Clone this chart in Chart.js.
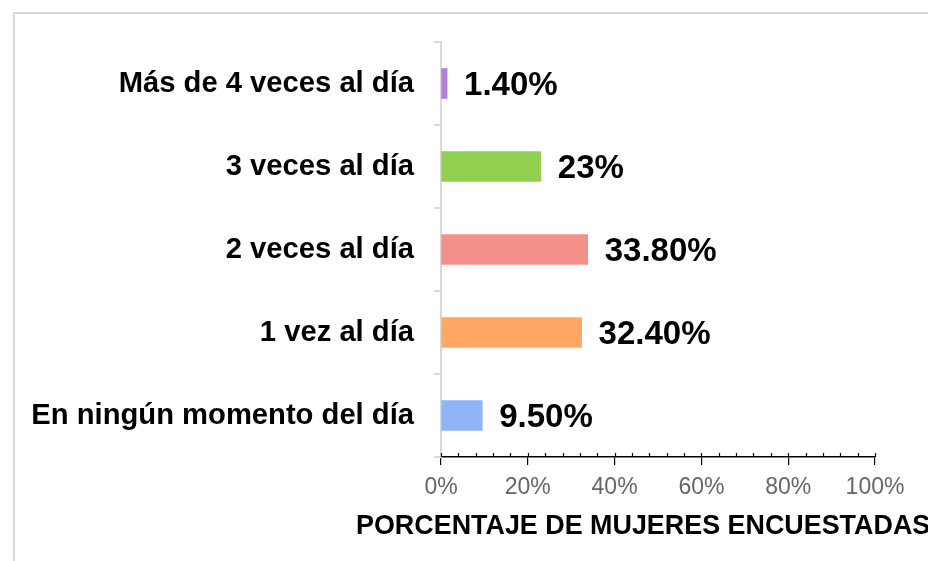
<!DOCTYPE html>
<html>
<head>
<meta charset="utf-8">
<script src="https://cdn.jsdelivr.net/npm/chart.js@4.4.0/dist/chart.umd.min.js"></script>
<style>
    html, body { margin: 0; padding: 0; background: #fff; overflow: hidden; }
    #marco { position: absolute; left: 13px; top: 12px; width: 940px; height: 580px; border-top: 2px solid #d9d9d9; border-left: 2px solid #d9d9d9; }
    #contenedor { position: absolute; left: 0; top: 0; width: 928px; height: 561px; }
</style>
</head>
<body>
<div id="marco"></div>
<div id="contenedor"><canvas id="grafico"></canvas></div>
<script>
const categorias = ['Más de 4 veces al día', '3 veces al día', '2 veces al día', '1 vez al día', 'En ningún momento del día'];
const porcentajes = [1.4, 23, 33.8, 32.4, 9.5];
const etiquetasValor = ['1.40%', '23%', '33.80%', '32.40%', '9.50%'];
const coloresBarra = ['#b07fdc', '#92d050', '#f4908a', '#ffa866', '#8fb4f8'];
const tituloEje = 'PORCENTAJE DE MUJERES ENCUESTADAS';

const fuente = '"Liberation Sans", Arial, sans-serif';

// etiquetas de valor al final de cada barra
const pluginEtiquetas = {
    id: 'etiquetas',
    afterDatasetsDraw(chart) {
        const ctx = chart.ctx;
        const meta = chart.getDatasetMeta(0);
        ctx.save();
        ctx.font = 'bold 33px ' + fuente;
        ctx.fillStyle = '#000';
        ctx.textAlign = 'left';
        ctx.textBaseline = 'middle';
        meta.data.forEach((barra, i) => {
            ctx.fillText(etiquetasValor[i], barra.x + 17, barra.y + 2);
        });
        ctx.restore();
    }
};

// marcas menores del eje x y titulo del eje
const pluginEjeX = {
    id: 'ejeX',
    afterDraw(chart) {
        const ctx = chart.ctx;
        const x = chart.scales.x;
        const abajo = chart.chartArea.bottom;
        ctx.save();
        ctx.strokeStyle = '#000';
        ctx.lineWidth = 1.2;
        for (let v = 0; v <= 100; v += 4) {
            const px = Math.round(x.getPixelForValue(v)) + 0.5;
            ctx.beginPath();
            ctx.moveTo(px, abajo - 4);
            ctx.lineTo(px, abajo);
            ctx.stroke();
        }
        ctx.font = 'bold 26.9px ' + fuente;
        ctx.fillStyle = '#000';
        ctx.textAlign = 'left';
        ctx.textBaseline = 'middle';
        ctx.fillText(tituloEje, 356, 527);
        ctx.restore();
    }
};

new Chart(document.getElementById('grafico'), {
    type: 'bar',
    data: {
        labels: categorias,
        datasets: [{
            data: porcentajes,
            backgroundColor: coloresBarra,
            barThickness: 30
        }]
    },
    options: {
        indexAxis: 'y',
        responsive: true,
        maintainAspectRatio: false,
        animation: false,
        layout: { padding: { left: 0, right: 53, top: 42, bottom: 0 } },
        plugins: {
            legend: { display: false },
            tooltip: { enabled: false }
        },
        scales: {
            x: {
                min: 0,
                max: 100,
                afterFit: (s) => { s.height = 104; },
                border: { color: '#000', width: 1.5 },
                grid: { drawOnChartArea: false, drawTicks: true, tickLength: 8, color: '#000', lineWidth: 1.2 },
                ticks: {
                    stepSize: 20,
                    padding: 9,
                    color: '#666',
                    font: { family: fuente, size: 23 },
                    callback: (v) => v + '%'
                }
            },
            y: {
                afterFit: (s) => { s.width = 441; },
                border: { color: '#d9d9d9', width: 2 },
                grid: { drawOnChartArea: false, drawTicks: true, tickLength: 7, color: '#d9d9d9', lineWidth: 2, offset: true },
                ticks: {
                    padding: 20,
                    color: '#000',
                    font: { family: fuente, size: 29.2, weight: 'bold' }
                }
            }
        }
    },
    plugins: [pluginEtiquetas, pluginEjeX]
});
</script>
</body>
</html>
